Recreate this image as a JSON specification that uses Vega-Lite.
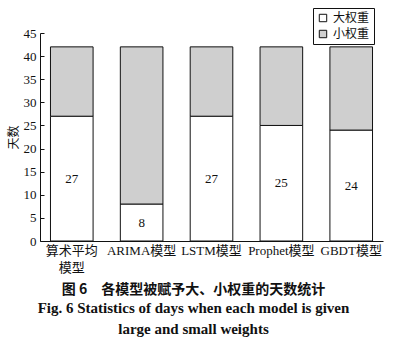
{
  "$schema": "https://vega.github.io/schema/vega-lite/v6.json",
  "autosize": "none",
  "width": 343,
  "height": 208,
  "padding": {"left": 40, "top": 33, "right": 34, "bottom": 111},
  "background": "white",
  "config": {
    "view": {"stroke": null},
    "font": "Liberation Serif, Noto Sans CJK SC",
    "axis": {"labelFont": "Liberation Serif, Noto Sans CJK SC", "titleFont": "Liberation Serif, Noto Sans CJK SC", "labelColor": "#111", "titleColor": "#111", "domainColor": "#111", "tickColor": "#111", "grid": false}
  },
  "title": {
    "text": "图 6　各模型被赋予大、小权重的天数统计",
    "subtitle": ["Fig. 6    Statistics of days when each model is given", "large and small weights"],
    "orient": "bottom",
    "anchor": "middle",
    "dx": -18,
    "offset": 9,
    "font": "Noto Sans CJK SC",
    "fontSize": 14,
    "fontWeight": "bold",
    "color": "#111",
    "subtitleFont": "Liberation Serif",
    "subtitleFontSize": 15,
    "subtitleFontWeight": "bold",
    "subtitleColor": "#111",
    "subtitleLineHeight": 21,
    "subtitlePadding": 4
  },
  "data": {
    "values": [
      {"model": "算术平均模型", "type": "大权重", "days": 27},
      {"model": "算术平均模型", "type": "小权重", "days": 15},
      {"model": "ARIMA模型", "type": "大权重", "days": 8},
      {"model": "ARIMA模型", "type": "小权重", "days": 34},
      {"model": "LSTM模型", "type": "大权重", "days": 27},
      {"model": "LSTM模型", "type": "小权重", "days": 15},
      {"model": "Prophet模型", "type": "大权重", "days": 25},
      {"model": "Prophet模型", "type": "小权重", "days": 17},
      {"model": "GBDT模型", "type": "大权重", "days": 24},
      {"model": "GBDT模型", "type": "小权重", "days": 18}
    ]
  },
  "encoding": {
    "x": {
      "field": "model",
      "type": "nominal",
      "sort": null,
      "scale": {"paddingInner": 0.39, "paddingOuter": 0.15},
      "axis": {
        "title": null,
        "labelAngle": 0,
        "labelFontSize": 13,
        "ticks": false,
        "labelPadding": 3,
        "labelLineHeight": 17,
        "labelOverlap": false,
        "labelExpr": "datum.label == '算术平均模型' ? ['算术平均', '模型'] : datum.label"
      }
    }
  },
  "layer": [
    {
      "mark": {"type": "bar", "stroke": "#111", "strokeWidth": 1},
      "encoding": {
        "y": {
          "field": "days",
          "type": "quantitative",
          "stack": "zero",
          "scale": {"domain": [0, 45], "nice": false},
          "axis": {"title": "天数", "titleFontSize": 12, "titleFontWeight": "normal", "titleX": -27, "titleY": 104, "titleAlign": "center", "titleBaseline": "middle", "labelFontSize": 13, "values": [0, 5, 10, 15, 20, 25, 30, 35, 40, 45], "labelOverlap": false, "tickSize": -4, "labelPadding": 8}
        },
        "order": {"field": "type", "sort": "ascending"},
        "fill": {
          "field": "type",
          "type": "nominal",
          "scale": {"domain": ["大权重", "小权重"], "range": ["#ffffff", "#cfcfcf"]},
          "legend": {
            "title": null,
            "orient": "none",
            "legendX": 273,
            "legendY": -25,
            "symbolType": "square",
            "symbolSize": 55,
            "symbolStrokeColor": "#111",
            "symbolStrokeWidth": 1,
            "labelFontSize": 12,
            "labelOffset": 4,
            "labelFont": "Noto Sans CJK SC",
            "labelColor": "#111",
            "strokeColor": "#111",
            "padding": 4,
            "rowPadding": 4,
            "fillColor": "white"
          }
        }
      }
    },
    {
      "transform": [
        {"filter": "datum.type == '大权重'"},
        {"calculate": "datum.days / 2", "as": "mid"}
      ],
      "mark": {"type": "text", "fontSize": 13, "color": "#111", "font": "Liberation Serif"},
      "encoding": {
        "y": {
          "field": "mid",
          "type": "quantitative",
          "scale": {"domain": [0, 45], "nice": false},
          "axis": {"title": "天数", "titleFontSize": 12, "titleFontWeight": "normal", "titleX": -27, "titleY": 104, "titleAlign": "center", "titleBaseline": "middle", "labelFontSize": 13, "values": [0, 5, 10, 15, 20, 25, 30, 35, 40, 45], "labelOverlap": false, "tickSize": -4, "labelPadding": 8}
        },
        "text": {"field": "days", "type": "quantitative"}
      }
    }
  ]
}
